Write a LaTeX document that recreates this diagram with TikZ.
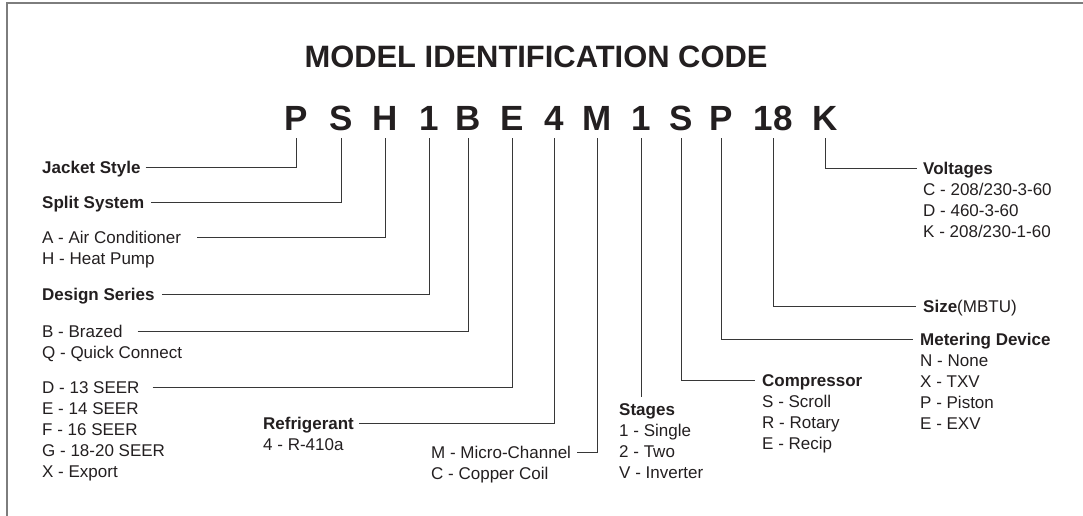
\documentclass[tikz,border=0pt]{standalone}
\usepackage{fontspec}
\setmainfont{Liberation Sans}
\usepackage{tikz}
\usetikzlibrary{positioning,calc}
\definecolor{CodeInk}{RGB}{35,31,32}
\definecolor{LeadLine}{RGB}{55,55,55}
\definecolor{FrameGray}{RGB}{125,125,125}

\begin{document}
\begin{tikzpicture}[
  x=1pt, y=-1pt,
  title/.style={font=\bfseries\fontsize{30.9}{36}\selectfont, text=CodeInk, inner sep=0pt},
  code/.style={font=\bfseries\fontsize{35}{40}\selectfont, text=CodeInk,
    inner xsep=0pt, inner ysep=7pt, text depth=0pt, anchor=base},
  head/.style={font=\bfseries\fontsize{17}{21}\selectfont, text=CodeInk,
    inner sep=0pt, text height=12.2pt, text depth=0pt, anchor=west},
  item/.style={font=\fontsize{17}{21}\selectfont, text=CodeInk,
    inner sep=0pt, text height=12.2pt, text depth=0pt, anchor=west},
  lead/.style={draw=LeadLine, line width=0.9pt},
  frame/.style={draw=FrameGray, line width=1.6pt}
]
\useasboundingbox (0,0) rectangle (1083,516);

% frame (only top and left edges are inside the picture)
\draw[frame] (7,516) -- (7,3) -- (1083,3);

% title and code letters
\node[title] (title) at (536,56.5) {MODEL IDENTIFICATION CODE};
\node[code] (codeP)     at (296,131) {P};
\node[code] (codeS)     at (341,131) {S};
\node[code] (codeH)     at (385,131) {H};
\node[code] (codeOne)   at (429,131) {1};
\node[code] (codeB)     at (468,131) {B};
\node[code] (codeE)     at (512,131) {E};
\node[code] (codeFour)  at (554,131) {4};
\node[code] (codeM)     at (597,131) {M};
\node[code] (codeOneB)  at (641,131) {1};
\node[code] (codeSB)    at (681,131) {S};
\node[code] (codePB)    at (721,131) {P};
\node[code] (codeSize)  at (773,131) {18};
\node[code] (codeK)     at (825,131) {K};

% left column
\node[head] (jacket) at (42,167) {Jacket Style};
\node[head] (split) at (42,202) {Split System};
\node[item] (airCond) at (42,237) {A - Air Conditioner};
\node[item] (heatPump) at ([yshift=-21pt]airCond.west) {H - Heat Pump};
\node[head] (design) at (42,294) {Design Series};
\node[item] (brazed) at (42,331) {B - Brazed};
\node[item] (quick) at ([yshift=-21pt]brazed.west) {Q - Quick Connect};
\node[item] (seer) at (42,387) {D - 13 SEER};
\foreach \txt [count=\k] in {E - 14 SEER, F - 16 SEER, G - 18-20 SEER, X - Export}
  \node[item] (seer-\k) at ([yshift=-21*\k pt]seer.west) {\txt};

% bottom row
\node[head] (refrig) at (263,423) {Refrigerant};
\node[item] (r410) at ([yshift=-21pt]refrig.west) {4 - R-410a};
\node[item] (micro) at (431,452) {M - Micro-Channel};
\node[item] (copper) at ([yshift=-21pt]micro.west) {C - Copper Coil};
\node[head] (stages) at (619,409) {Stages};
\foreach \txt [count=\k] in {1 - Single, 2 - Two, V - Inverter}
  \node[item] (stages-\k) at ([yshift=-21*\k pt]stages.west) {\txt};
\node[head] (comp) at (762,380) {Compressor};
\foreach \txt [count=\k] in {S - Scroll, R - Rotary, E - Recip}
  \node[item] (comp-\k) at ([yshift=-21*\k pt]comp.west) {\txt};

% right column
\node[head] (meter) at (920,339) {Metering Device};
\foreach \txt [count=\k] in {N - None, X - TXV, P - Piston, E - EXV}
  \node[item] (meter-\k) at ([yshift=-21*\k pt]meter.west) {\txt};
\node[head] (size) at (923,306) {Size{\mdseries(MBTU)}};
\node[head] (volt) at (923,168) {Voltages};
\foreach \txt [count=\k] in {C - 208/230-3-60, D - 460-3-60, K - 208/230-1-60}
  \node[item] (volt-\k) at ([yshift=-21*\k pt]volt.west) {\txt};

% --- leaders ---
\draw[lead, shorten <=5pt] (jacket.east) -| (codeP.south);
\draw[lead, shorten <=7pt] (split.east) -| (codeS.south);
\draw[lead, shorten <=16pt] (airCond.east) -| (codeH.south);
\draw[lead, shorten <=7pt] (design.east) -| (codeOne.south);
\draw[lead, shorten <=15pt] (brazed.east) -| (codeB.south);
\draw[lead, shorten <=13pt] (seer.east) -| (codeE.south);
\draw[lead, shorten <=5pt] (refrig.east) -| (codeFour.south);
\draw[lead, shorten <=6pt] (micro.east) -| (codeM.south);
\draw[lead, shorten >=6pt] (codeOneB.south) -- (codeOneB.south |- stages.north);
\draw[lead, shorten >=7pt] (codeSB.south) |- (comp.west);
\draw[lead, shorten >=7pt] (codePB.south) |- (meter.west);
\draw[lead, shorten >=7pt] (codeSize.south) |- (size.west);
\draw[lead, shorten >=6pt] (codeK.south) |- (volt.west);

\end{tikzpicture}
\end{document}
